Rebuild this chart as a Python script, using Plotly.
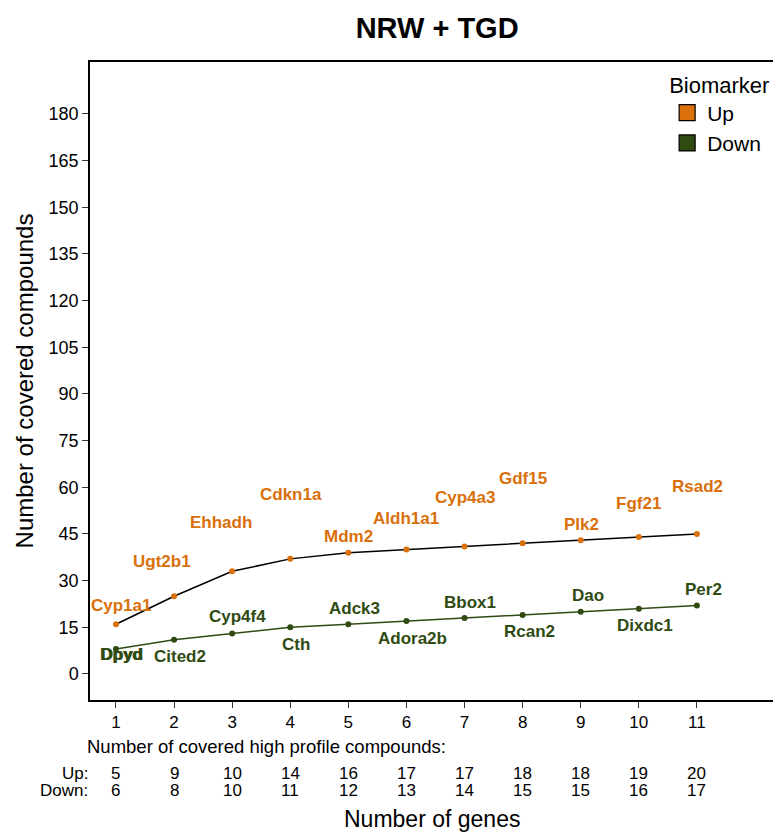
import plotly.graph_objects as go

# --- data -------------------------------------------------------------
n_genes = [1, 2, 3, 4, 5, 6, 7, 8, 9, 10, 11]

up_genes = ["Cyp1a1", "Ugt2b1", "Ehhadh", "Cdkn1a", "Mdm2", "Aldh1a1",
            "Cyp4a3", "Gdf15", "Plk2", "Fgf21", "Rsad2"]
up_compounds = [16, 25, 33, 37, 39, 40, 41, 42, 43, 44, 45]

down_genes = ["Dpyd", "Cited2", "Cyp4f4", "Cth", "Adck3", "Adora2b",
              "Bbox1", "Rcan2", "Dao", "Dixdc1", "Per2"]
down_compounds = [8, 11, 13, 15, 16, 17, 18, 19, 20, 21, 22]

up_high_profile = [5, 9, 10, 14, 16, 17, 17, 18, 18, 19, 20]
down_high_profile = [6, 8, 10, 11, 12, 13, 14, 15, 15, 16, 17]

y_ticks = list(range(0, 181, 15))

# label placement offsets (dx, dy in axis units) relative to each point
up_label_offsets = [(0.09, 5.9), (-0.21, 11.1), (-0.2, 15.6), (0.01, 20.8),
                    (0.0, 5.2), (0.0, 10.0), (0.0, 15.8), (0.01, 20.7),
                    (0.01, 4.9), (0.0, 10.9), (0.01, 15.4)]
down_label_offsets = [(0.1, -1.6), (0.1, -5.4), (0.1, 5.6), (0.1, -5.5),
                      (0.1, 4.9), (0.11, -5.5), (0.1, 4.9), (0.11, -5.4),
                      (0.12, 5.1), (0.1, -5.5), (0.12, 5.0)]

UP_COLOR = "#D9700B"
DOWN_COLOR = "#2F4B12"
FONT = "Liberation Sans, Arial, sans-serif"

fig = go.Figure()

# main series
fig.add_trace(go.Scatter(
    x=n_genes, y=up_compounds, mode="lines+markers",
    line=dict(color="black", width=1.5),
    marker=dict(color=UP_COLOR, size=6), showlegend=False, hoverinfo="skip"))
fig.add_trace(go.Scatter(
    x=n_genes, y=down_compounds, mode="lines+markers",
    line=dict(color=DOWN_COLOR, width=1.5),
    marker=dict(color=DOWN_COLOR, size=6), showlegend=False, hoverinfo="skip"))

# legend entries
fig.add_trace(go.Scatter(
    x=[None], y=[None], mode="markers", name="Up",
    marker=dict(symbol="square", size=16, color=UP_COLOR,
                line=dict(color="black", width=1.2))))
fig.add_trace(go.Scatter(
    x=[None], y=[None], mode="markers", name="Down",
    marker=dict(symbol="square", size=16, color=DOWN_COLOR,
                line=dict(color="black", width=1.2))))

annotations = []

# gene labels
for xi, yi, name, (dx, dy) in zip(n_genes, up_compounds, up_genes, up_label_offsets):
    annotations.append(dict(x=xi + dx, y=yi + dy, xref="x", yref="y", text=name,
                            showarrow=False,
                            font=dict(family=FONT, size=17, color=UP_COLOR, weight="bold")))
for i, (xi, yi, name, (dx, dy)) in enumerate(zip(n_genes, down_compounds, down_genes,
                                                  down_label_offsets)):
    annotations.append(dict(x=xi + dx, y=yi + dy, xref="x", yref="y", text=name,
                            showarrow=False,
                            font=dict(family=FONT, size=17, color=DOWN_COLOR, weight="bold")))
    if i == 0:
        # first label is drawn twice (overlapping labels at the same point)
        annotations.append(dict(x=xi + dx, y=yi + dy, xref="x", yref="y", text=name,
                                showarrow=False, xshift=1, yshift=0,
                                font=dict(family=FONT, size=17, color=DOWN_COLOR,
                                          weight="bold")))

# high-profile compound table under the axis
annotations.append(dict(x=-0.0073, y=-0.073, xref="paper", yref="paper", xanchor="left",
                        yanchor="middle", showarrow=False,
                        text="Number of covered high profile compounds:",
                        font=dict(family=FONT, size=18.5, color="black")))
annotations.append(dict(x=0.0, y=-0.1145, xref="paper", yref="paper", xanchor="right",
                        yanchor="middle", showarrow=False, text="Up:",
                        font=dict(family=FONT, size=17, color="black")))
annotations.append(dict(x=0.0, y=-0.1415, xref="paper", yref="paper", xanchor="right",
                        yanchor="middle", showarrow=False, text="Down:",
                        font=dict(family=FONT, size=17, color="black")))
for xi, u, d in zip(n_genes, up_high_profile, down_high_profile):
    annotations.append(dict(x=xi, y=-0.1145, xref="x", yref="paper", yanchor="middle",
                            showarrow=False, text=str(u),
                            font=dict(family=FONT, size=17, color="black")))
    annotations.append(dict(x=xi, y=-0.1415, xref="x", yref="paper", yanchor="middle",
                            showarrow=False, text=str(d),
                            font=dict(family=FONT, size=17, color="black")))

# x axis title
annotations.append(dict(x=0.5, y=-0.186, xref="paper", yref="paper", yanchor="middle",
                        showarrow=False, text="Number of genes",
                        font=dict(family=FONT, size=23, color="black")))

fig.update_layout(
    width=773, height=832,
    margin=dict(l=90, r=0, t=62, b=132),
    paper_bgcolor="white", plot_bgcolor="white",
    font=dict(family=FONT, color="black"),
    title=dict(text="<b>NRW + TGD</b>", x=0.5655, xanchor="center", y=0.966,
               yanchor="middle", font=dict(family=FONT, size=29, color="black")),
    xaxis=dict(range=[0.553, 12.31], tickvals=n_genes, ticks="outside", ticklen=6,
               tickcolor="#333", showgrid=False, zeroline=False,
               showline=True, linecolor="black", linewidth=1.5, mirror=True,
               tickfont=dict(family=FONT, size=17, color="black")),
    yaxis=dict(range=[-8.36, 196.7], tickvals=y_ticks, ticks="outside", ticklen=6,
               tickcolor="#333", showgrid=False, zeroline=False,
               showline=True, linecolor="black", linewidth=1.5,
               tickfont=dict(family=FONT, size=18, color="black"),
               title=dict(text="Number of covered compounds", standoff=8,
                          font=dict(family=FONT, size=24, color="black"))),
    legend=dict(title=dict(text="Biomarker", font=dict(family=FONT, size=22)),
                font=dict(family=FONT, size=21, color="black"),
                x=0.845, xanchor="left", y=0.997, yanchor="top",
                bgcolor="rgba(0,0,0,0)", tracegroupgap=0, itemsizing="trace"),
    annotations=annotations,
)

fig.write_html("out.html")
